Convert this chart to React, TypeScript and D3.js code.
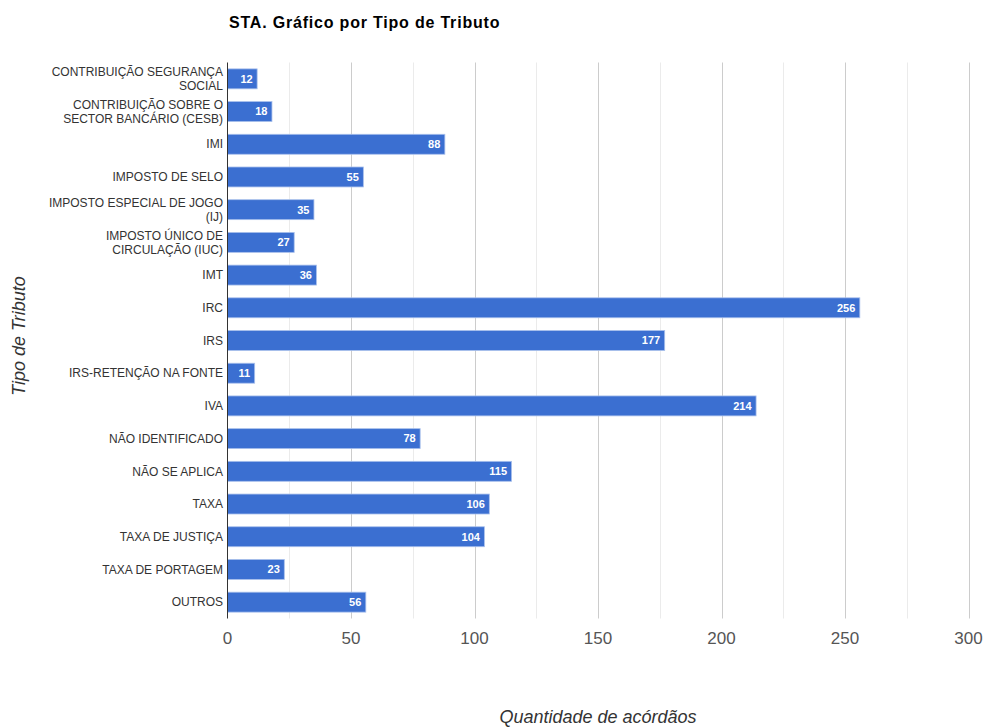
import React from "react";
import * as d3 from "d3";

const categories: string[][] = [
  ["CONTRIBUIÇÃO SEGURANÇA", "SOCIAL"],
  ["CONTRIBUIÇÃO SOBRE O", "SECTOR BANCÁRIO (CESB)"],
  ["IMI"],
  ["IMPOSTO DE SELO"],
  ["IMPOSTO ESPECIAL DE JOGO", "(IJ)"],
  ["IMPOSTO ÚNICO DE", "CIRCULAÇÃO (IUC)"],
  ["IMT"],
  ["IRC"],
  ["IRS"],
  ["IRS-RETENÇÃO NA FONTE"],
  ["IVA"],
  ["NÃO IDENTIFICADO"],
  ["NÃO SE APLICA"],
  ["TAXA"],
  ["TAXA DE JUSTIÇA"],
  ["TAXA DE PORTAGEM"],
  ["OUTROS"],
];
const values: number[] = [12, 18, 88, 55, 35, 27, 36, 256, 177, 11, 214, 78, 115, 106, 104, 23, 56];
const majorTicks: number[] = [0, 50, 100, 150, 200, 250, 300];
const minorTicks: number[] = [25, 75, 125, 175, 225, 275];

const W = 986;
const H = 727;
const left = 227.5;
const right = 968.5;
const top = 62.5;
const bottom = 618.5;
const font = "Arial, 'Liberation Sans', sans-serif";

export default function App() {
  const x = d3.scaleLinear().domain([0, 300]).range([left, right]);
  const idx = categories.map((_, i) => String(i));
  const y = d3.scaleBand().domain(idx).range([top, bottom]).paddingInner(0.39).paddingOuter(0.195);
  return (
    <svg width={W} height={H} style={{ position: "absolute", left: 0, top: 0, background: "#fff" }}>
      <rect x={0} y={0} width={W} height={H} fill="#fff" />
      <text x={229} y={28} fontFamily={font} fontSize={16} letterSpacing={0.8} fontWeight="bold" fill="#000">
        STA. Gráfico por Tipo de Tributo
      </text>
      {minorTicks.map((t) => (
        <line key={"m" + t} x1={Math.round(x(t)) + 0.5} x2={Math.round(x(t)) + 0.5} y1={top} y2={bottom} stroke="#ebebeb" />
      ))}
      {majorTicks.slice(1).map((t) => (
        <line key={"M" + t} x1={Math.round(x(t)) + 0.5} x2={Math.round(x(t)) + 0.5} y1={top} y2={bottom} stroke="#cccccc" />
      ))}
      {values.map((v, i) => {
        const y0 = y(String(i))!;
        const bw = y.bandwidth();
        return (
          <g key={i}>
            <rect x={x(0)} y={y0} width={x(v) - x(0)} height={bw} fill="#3b6fd1" stroke="#a9c0ec" strokeWidth={0.8} />
            <text x={x(v) - 4.5} y={y0 + bw / 2} dy="0.35em" textAnchor="end" fontFamily={font} fontSize={11} fontWeight="bold" fill="#fff">
              {v}
            </text>
          </g>
        );
      })}
      {categories.map((lines, i) => {
        const cy = y(String(i))! + y.bandwidth() / 2;
        const lh = 14;
        const start = cy - ((lines.length - 1) * lh) / 2;
        return (
          <text key={"c" + i} textAnchor="end" fontFamily={font} fontSize={12} fill="#333">
            {lines.map((l, j) => (
              <tspan key={j} x={223} y={start + j * lh} dy="0.35em">
                {l}
              </tspan>
            ))}
          </text>
        );
      })}
      <line x1={left} x2={left} y1={top} y2={bottom} stroke="#333" strokeWidth={1} />
      {majorTicks.map((t) => (
        <text key={"t" + t} x={x(t)} y={644} textAnchor="middle" fontFamily={font} fontSize={17} fill="#555">
          {t}
        </text>
      ))}
      <text x={598} y={723} textAnchor="middle" fontFamily={font} fontSize={18} fontStyle="italic" fill="#333">
        Quantidade de acórdãos
      </text>
      <text transform={`translate(25,336) rotate(-90)`} textAnchor="middle" fontFamily={font} fontSize={18} fontStyle="italic" fill="#333">
        Tipo de Tributo
      </text>
    </svg>
  );
}
